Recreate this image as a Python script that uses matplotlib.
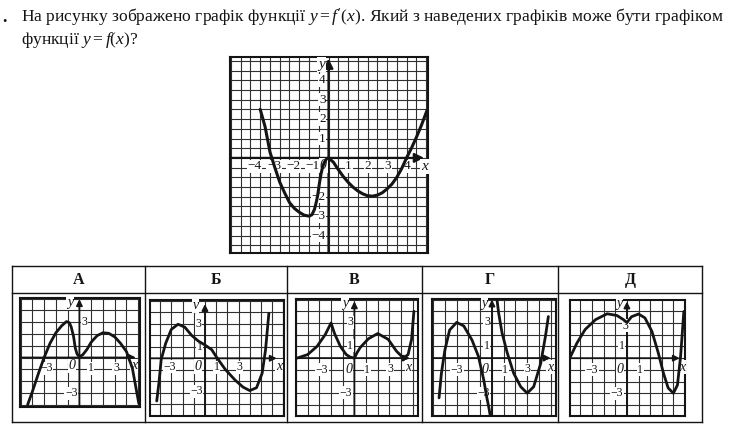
import numpy as np
import matplotlib
matplotlib.use('Agg')
import matplotlib.pyplot as plt

plt.rcParams['font.family'] = ['Liberation Serif', 'DejaVu Serif']
plt.rcParams['mathtext.fontset'] = 'custom'
plt.rcParams['mathtext.rm'] = 'Liberation Serif'
plt.rcParams['mathtext.it'] = 'Liberation Serif:italic'

W, H = 735, 433
INK = '#141414'
GRID = '#303030'

# graph of f'(x) (main picture)
fp_x = [-3.5, -3.25, -3.0, -2.75, -2.5, -2.25, -2.0, -1.75, -1.5, -1.25, -1.0, -0.85,
        -0.72, -0.62, -0.55, -0.48, -0.4, -0.3, -0.2, -0.1, 0.0, 0.25, 0.5, 0.75, 1.0,
        1.25, 1.5, 1.75, 2.0, 2.25, 2.5, 2.75, 3.0, 3.25, 3.5, 3.75, 4.0, 4.25, 4.5,
        4.75, 5.05]
fp_y = [2.5, 1.6, 0.3, -0.5, -1.25, -1.8, -2.3, -2.6, -2.8, -2.95, -3.0, -2.93,
        -2.65, -2.25, -1.9, -1.4, -0.9, -0.45, -0.2, -0.05, 0.0, -0.22, -0.6, -0.95, -1.25,
        -1.5, -1.7, -1.85, -1.95, -1.97, -1.92, -1.8, -1.6, -1.35, -1.0, -0.55, 0.0, 0.5, 1.05,
        1.65, 2.45]

# answer graphs
a_x = [-4.4, -4.0, -3.5, -3.0, -2.5, -2.0, -1.5, -1.1, -0.85, -0.7, -0.5, -0.35, -0.2,
       0.0, 0.3, 0.65, 1.0, 1.5, 2.0, 2.5, 3.0, 3.5, 4.0, 4.5, 5.05]
a_y = [-4.0, -2.9, -1.4, 0.0, 1.2, 2.1, 2.7, 3.05, 2.95, 2.6, 1.8, 0.8, 0.3,
       0.05, 0.25, 0.7, 1.3, 1.85, 2.1, 2.05, 1.75, 1.2, 0.5, -0.9, -3.9]

b_x = [-4.3, -4.1, -3.9, -3.5, -3.0, -2.4, -1.8, -1.2, -0.6, 0.0, 0.6, 1.0, 1.8, 2.7,
       3.4, 4.0, 4.6, 5.1, 5.4, 5.7]
b_y = [-3.7, -2.1, -0.1, 1.3, 2.5, 2.95, 2.7, 2.0, 1.5, 1.15, 0.75, 0.15, -0.95, -1.9,
       -2.5, -2.8, -2.55, -1.3, 0.7, 3.9]

v_x = [-4.9, -4.0, -3.2, -2.5, -2.0, -1.7, -1.2, -0.7, -0.35, 0.0, 0.25, 0.5, 1.2, 2.0,
       2.9, 3.6, 4.2, 4.6, 4.9, 5.1]
v_y = [0.0, 0.3, 1.0, 2.0, 3.0, 2.1, 1.0, 0.3, 0.08, 0.0, 0.5, 0.9, 1.65, 2.1,
       1.6, 0.6, 0.0, 0.3, 1.6, 4.0]

g1_x = [-4.5, -4.3, -4.0, -3.6, -3.0, -2.4, -1.7, -1.15, -0.7, -0.45, -0.25, -0.15]
g1_y = [-3.4, -1.3, 0.7, 2.4, 3.05, 2.75, 1.55, 0.15, -1.85, -3.3, -4.3, -4.9]
g2_x = [0.43, 0.57, 0.86, 1.3, 1.85, 2.45, 3.0, 3.55, 4.15, 4.55, 4.8]
g2_y = [5.0, 3.85, 2.15, 0.45, -1.3, -2.45, -3.0, -2.45, -0.45, 1.85, 3.55]

d_x = [-4.85, -4.3, -3.6, -2.7, -1.7, -0.85, -0.3, 0.0, 0.4, 1.0, 1.55, 2.15, 2.7,
       3.15, 3.55, 4.0, 4.35, 4.62, 4.9]
d_y = [0.15, 1.3, 2.45, 3.3, 3.8, 3.65, 3.3, 3.05, 3.55, 3.78, 3.45, 2.3, 0.45,
       -1.3, -2.55, -3.0, -2.3, 0.15, 4.0]

letters = ['А', 'Б', 'В', 'Г', 'Д']

main_xticks = [-4, -3, -2, -1, 1, 2, 3, 4]
main_yticks = [4, 3, 2, 1, -2, -3, -4]

# table layout (pixels)
TAB_L, TAB_R, TAB_T, HEAD_B, TAB_B = 12.5, 702, 266, 293, 422
COLS = [TAB_L, 145, 287, 422, 558, TAB_R]

fig = plt.figure(figsize=(W / 100, H / 100), dpi=100)
ov = fig.add_axes([0, 0, 1, 1])
ov.set_xlim(0, W)
ov.set_ylim(H, 0)
ov.axis('off')


def place(l, t, r, b):
    return fig.add_axes([l / W, 1 - b / H, (r - l) / W, (b - t) / H])


def setup(ax, xlim, ylim, step, xtip, ytip, ms, lw_axis):
    ax.set_xlim(*xlim)
    ax.set_ylim(*ylim)
    ax.set_xticks(np.arange(np.ceil(xlim[0] / step) * step, xlim[1] + 1e-9, step))
    ax.set_yticks(np.arange(np.ceil(ylim[0] / step) * step, ylim[1] + 1e-9, step))
    ax.grid(True, color=GRID, lw=0.8)
    ax.tick_params(length=0, labelbottom=False, labelleft=False)
    for s in ax.spines.values():
        s.set_linewidth(1.5)
        s.set_color(INK)
    ax.set_axisbelow(True)
    arrow = dict(arrowstyle='-|>', lw=lw_axis, color=INK, shrinkA=0, shrinkB=0,
                 mutation_scale=ms)
    ax.annotate('', xy=(xtip, 0), xytext=(xlim[0], 0), arrowprops=arrow)
    ax.annotate('', xy=(0, ytip), xytext=(0, ylim[0]), arrowprops=arrow)


def label(ax, x, y, s, fs, italic=False):
    ax.text(x, y, s, ha='center', va='center', fontsize=fs,
            style='italic' if italic else 'normal', color=INK, zorder=3,
            bbox=dict(boxstyle='square,pad=0.05', fc='white', ec='none'))


# question text
ov.text(2, 17, '.', fontsize=13, weight='bold', va='center', color=INK)
ov.text(21, 17, "На рисунку зображено графік функції $y = f'(x)$. Який з наведених графіків може бути графіком",
        fontsize=12.6, va='center', color=INK)
ov.text(21, 40, "функції $y = f(x)$?", fontsize=12.6, va='center', color=INK)

# main graph of f'(x)
ax = place(230, 57, 428, 253)
setup(ax, (-5.05, 5.1), (-4.9, 5.2), 0.5, 4.9, 5.12, 14, 1.6)
for v in main_xticks:
    off = 0.2 if v < 0 else 0.03
    label(ax, v + off, -0.43, str(v).replace('-', '−'), 9.5)
for v in main_yticks:
    ax.text(-0.15, v, str(v).replace('-', '−'), ha='right', va='center', fontsize=9.5,
            color=INK, zorder=3, bbox=dict(boxstyle='square,pad=0.05', fc='white', ec='none'))
label(ax, -0.26, -0.4, '0', 10, italic=True)
label(ax, -0.36, 4.8, 'y', 11, italic=True)
label(ax, 4.92, -0.43, 'x', 11, italic=True)
ax.plot(fp_x, fp_y, color=INK, lw=2.2, zorder=4, solid_capstyle='round')

# table
for y in (TAB_T, HEAD_B, TAB_B):
    ov.plot([TAB_L, TAB_R], [y, y], color=INK, lw=1.0)
for x in COLS:
    ov.plot([x, x], [TAB_T, TAB_B], color=INK, lw=1.0)
for i, s in enumerate(letters):
    ov.text((COLS[i] + COLS[i + 1]) / 2, (TAB_T + HEAD_B) / 2 + 1, s, ha='center',
            va='center', fontsize=11.5, weight='bold', color=INK)

panels = [
    dict(box=(20, 298, 140, 407), xlim=(-5.05, 5.15), ylim=(-4.2, 5.05), xtip=4.8, ytip=4.95,
         curves=[(a_x, a_y)],
         labels=[('y', -0.8, 4.65, True), ('3', 0.45, 3.0, False), ('−3', -2.8, -0.9, False),
                 ('0', -0.65, -0.72, True), ('1', 0.97, -0.9, False), ('3', 3.1, -0.9, False),
                 ('x', 4.65, -0.72, True), ('−3', -0.7, -3.05, False)]),
    dict(box=(150, 300, 284, 416), xlim=(-4.9, 7.05), ylim=(-5.0, 5.05), xtip=6.4, ytip=4.7,
         curves=[(b_x, b_y)],
         labels=[('v', -0.84, 4.55, True), ('3', -0.55, 3.0, False), ('1', -0.45, 0.95, False),
                 ('−3', -3.15, -0.72, False), ('0', -0.6, -0.72, True), ('1', 1.05, -0.77, False),
                 ('3', 3.05, -0.77, False), ('x', 6.6, -0.68, True), ('−3', -0.75, -2.87, False)]),
    dict(box=(296, 299, 418, 416), xlim=(-5.0, 5.45), ylim=(-4.95, 5.05), xtip=4.75, ytip=4.85,
         curves=[(v_x, v_y)],
         labels=[('y', -0.8, 4.7, True), ('3', -0.37, 3.05, False), ('1', -0.37, 1.05, False),
                 ('−3', -2.8, -1.0, False), ('0', -0.5, -0.95, True), ('1', 1.1, -1.0, False),
                 ('3', 3.05, -0.95, False), ('x', 4.65, -0.78, True), ('−3', -0.72, -2.95, False)]),
    dict(box=(432, 299, 556, 416), xlim=(-5.1, 5.45), ylim=(-4.95, 5.05), xtip=5.0, ytip=5.0,
         curves=[(g1_x, g1_y), (g2_x, g2_y)],
         labels=[('y', -0.63, 4.7, True), ('3', -0.43, 3.05, False), ('1', -0.43, 1.05, False),
                 ('−3', -3.0, -1.0, False), ('0', -0.57, -0.95, True), ('1', 1.14, -1.0, False),
                 ('3', 3.0, -0.95, False), ('x', 4.95, -0.78, True), ('−3', -0.72, -3.0, False)]),
    dict(box=(570, 300, 685, 416), xlim=(-4.9, 5.0), ylim=(-4.95, 4.98), xtip=4.55, ytip=4.85,
         curves=[(d_x, d_y)],
         labels=[('y', -0.63, 4.65, True), ('3', -0.14, 2.77, False), ('1', -0.43, 1.05, False),
                 ('−3', -3.0, -1.0, False), ('0', -0.57, -0.95, True), ('1', 1.14, -1.0, False),
                 ('x', 4.8, -0.78, True), ('−3', -0.86, -3.0, False)]),
]

for p in panels:
    ax = place(*p['box'])
    setup(ax, p['xlim'], p['ylim'], 1.0, p['xtip'], p['ytip'], 9, 1.3)
    for s, x, y, it in p['labels']:
        label(ax, x, y, s, 10 if it else 8.5, italic=it)
    for cx, cy in p['curves']:
        ax.plot(cx, cy, color=INK, lw=2.0, zorder=4, solid_capstyle='round')

fig.savefig('out.png', dpi=100)
